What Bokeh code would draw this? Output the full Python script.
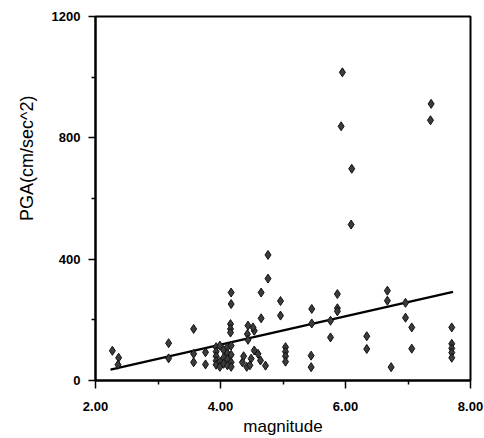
from bokeh.plotting import figure
from bokeh.models import Range1d, FixedTicker, PrintfTickFormatter, Title
from bokeh.embed import file_html
from bokeh.resources import INLINE

magnitude = [
    2.27, 2.37, 2.36,
    3.17, 3.17,
    3.57, 3.57, 3.57,
    3.76, 3.76,
    3.93, 3.93, 3.93, 3.93, 3.93,
    3.99, 3.99, 3.99,
    4.05, 4.05, 4.05,
    4.11, 4.11, 4.11, 4.11,
    4.17, 4.17, 4.17, 4.17,
    4.17, 4.17, 4.16, 4.16, 4.16,
    4.35, 4.37, 4.42, 4.49, 4.47,
    4.44, 4.43, 4.44, 4.54, 4.52,
    4.54, 4.60, 4.64, 4.72,
    4.65, 4.65,
    4.76, 4.76,
    4.96, 4.96,
    5.04, 5.04, 5.04, 5.04,
    5.46, 5.46, 5.45, 5.45,
    5.76, 5.76,
    5.87, 5.87, 5.87,
    5.95, 5.93,
    6.10, 6.09,
    6.34, 6.34,
    6.67, 6.67,
    6.73,
    6.96, 6.96,
    7.06, 7.06,
    7.37, 7.36,
    7.70, 7.70, 7.70, 7.70, 7.70,
]
pga = [
    98, 75, 52,
    123, 73,
    170, 88, 60,
    93, 53,
    110, 95, 80, 65, 52,
    115, 62, 45,
    100, 75, 55,
    110, 90, 70, 50,
    115, 85, 60, 45,
    290, 252, 186, 170, 158,
    60, 80, 45, 72, 50,
    181, 153, 134, 164, 175,
    99, 88, 66, 49,
    290, 205,
    414, 336,
    262, 214,
    110, 95, 80, 62,
    236, 188, 82, 44,
    197, 142,
    285, 238, 228,
    1016, 838,
    698, 514,
    146, 104,
    296, 263,
    44,
    256, 207,
    175, 105,
    912, 858,
    175, 121, 106, 92, 75,
]
fit_magnitude = [2.24, 7.72]
fit_pga = [36, 292]

x_major = [2, 4, 6, 8]
x_minor = [3, 5, 7]
y_major = [0, 400, 800, 1200]
y_minor = [200, 600, 1000]
x_title = "magnitude"
y_title = "PGA(cm/sec^2)"

p = figure(width=484, height=438, output_backend="svg", toolbar_location=None,
           x_range=Range1d(2, 8), y_range=Range1d(0, 1200),
           min_border_left=95, min_border_right=14, min_border_top=16, min_border_bottom=57,
           background_fill_color="white", border_fill_color="white")
p.xgrid.visible = False
p.ygrid.visible = False
p.outline_line_color = "black"
p.outline_line_width = 2

p.xaxis.ticker = FixedTicker(ticks=x_major, minor_ticks=x_minor)
p.yaxis.ticker = FixedTicker(ticks=y_major, minor_ticks=y_minor)
p.xaxis.formatter = PrintfTickFormatter(format="%.2f")
for ax in (p.xaxis, p.yaxis):
    ax.axis_line_color = "black"
    ax.axis_line_width = 2
    ax.major_tick_line_color = "black"
    ax.major_tick_line_width = 1.5
    ax.minor_tick_line_color = "black"
    ax.minor_tick_line_width = 1.5
    ax.major_tick_in = 0
    ax.minor_tick_in = 0
    ax.major_label_text_font = "Liberation Sans"
    ax.major_label_text_font_style = "bold"
    ax.major_label_text_font_size = "13px"
    ax.major_label_text_color = "black"
p.xaxis.major_tick_out = 8
p.xaxis.minor_tick_out = 4
p.xaxis.major_label_standoff = 13
p.yaxis.major_tick_out = 7
p.yaxis.minor_tick_out = 4
p.yaxis.major_label_standoff = 8

p.xaxis.axis_label = x_title
p.xaxis.axis_label_standoff = 3
p.xaxis.axis_label_text_font = "Liberation Sans"
p.xaxis.axis_label_text_font_style = "normal"
p.xaxis.axis_label_text_font_size = "17px"
p.xaxis.axis_label_text_color = "black"

p.add_layout(Title(text=y_title, align="right", offset=79, text_font="Liberation Sans",
                   text_font_size="18px", text_font_style="normal", text_color="black",
                   standoff=24), "left")

p.line(fit_magnitude, fit_pga, line_color="black", line_width=2.2)
p.scatter(magnitude, pga, marker="diamond", size=9, fill_color="#3c3c3c",
          line_color="#111111", line_width=1)

open("out.html", "w").write(file_html(p, INLINE))
